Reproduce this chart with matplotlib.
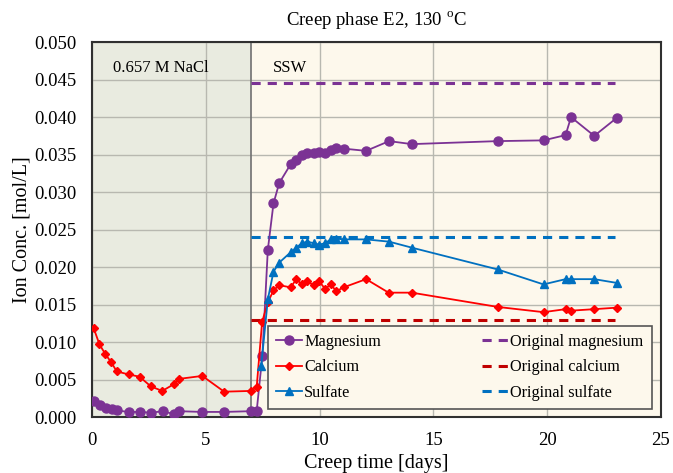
import numpy as np
import matplotlib
matplotlib.use("Agg")
import matplotlib.pyplot as plt

plt.rcParams['font.family'] = ['Liberation Serif', 'DejaVu Serif']
plt.rcParams['mathtext.fontset'] = 'custom'
plt.rcParams['mathtext.rm'] = 'Liberation Serif'

# magnesium
mg_t = [0.09, 0.35, 0.6, 0.85, 1.08, 1.6, 2.1, 2.6, 3.1, 3.6, 3.8, 4.84, 5.8, 6.97, 7.23,
        7.48, 7.72, 7.97, 8.22, 8.72, 8.97, 9.22, 9.46, 9.73, 9.98, 10.24, 10.49, 10.72, 11.05,
        12.04, 13.05, 14.05, 17.82, 19.84, 20.81, 21.05, 22.07, 23.06]
mg_c = [0.0021, 0.0016, 0.0012, 0.0011, 0.0009, 0.0007, 0.0007, 0.0006, 0.0008, 0.0004, 0.0008,
        0.0007, 0.0007, 0.0008, 0.0008,
        0.0082, 0.0223, 0.0285, 0.0312, 0.0337, 0.0343, 0.0349, 0.0352, 0.0352, 0.0354, 0.0352,
        0.0356, 0.0359, 0.0358, 0.0355, 0.0368, 0.0364, 0.0368, 0.0369, 0.0376, 0.0400, 0.0375, 0.0399]

# calcium
ca_t = [0.06, 0.32, 0.58, 0.84, 1.08, 1.6, 2.08, 2.58, 3.08, 3.59, 3.8, 4.84, 5.8, 6.97, 7.23,
        7.47, 7.72, 7.97, 8.22, 8.73, 8.97, 9.22, 9.46, 9.73, 9.98, 10.24, 10.49, 10.73, 11.05,
        12.04, 13.03, 14.05, 17.82, 19.84, 20.81, 21.05, 22.07, 23.06]
ca_c = [0.0119, 0.0097, 0.0084, 0.0073, 0.0061, 0.0057, 0.0054, 0.0041, 0.0035, 0.0044, 0.0051,
        0.0055, 0.0034, 0.0035, 0.0040,
        0.0127, 0.0153, 0.0169, 0.0176, 0.0173, 0.0184, 0.0177, 0.0181, 0.0176, 0.0181, 0.0171,
        0.0177, 0.0168, 0.0173, 0.0184, 0.0166, 0.0166, 0.0147, 0.0140, 0.0144, 0.0142, 0.0144, 0.0146]

# sulfate
so4_t = [7.43, 7.72, 7.97, 8.22, 8.73, 8.97, 9.22, 9.46, 9.73, 9.98, 10.24, 10.49, 10.73, 11.05,
         12.04, 13.05, 14.05, 17.82, 19.84, 20.81, 21.05, 22.07, 23.06]
so4_c = [0.0068, 0.0157, 0.0194, 0.0206, 0.0220, 0.0226, 0.0232, 0.0234, 0.0232, 0.0230, 0.0232,
         0.0237, 0.0238, 0.0237, 0.0237, 0.0234, 0.0226, 0.0197, 0.0177, 0.0184, 0.0184, 0.0184, 0.0179]

# original SSW levels
orig_t = [7.0, 23.0]
orig_mg = 0.0445
orig_ca = 0.0130
orig_so4 = 0.0240

switch_day = 7.0

fig = plt.figure(figsize=(6.73, 4.73), dpi=100)
ax = fig.add_axes([0.137, 0.118, 0.845, 0.793])

ax.axvspan(0, switch_day, color='#e9ebe0', zorder=0)
ax.axvspan(switch_day, 25, color='#fdf8ec', zorder=0)
ax.axvline(switch_day, color='#707070', lw=1.2, zorder=1)

dash = (0, (3, 2.3))
ax.plot(mg_t, mg_c, color='#7b3294', marker='o', ms=6.5, lw=1.3, label='Magnesium', zorder=4)
ax.plot(ca_t, ca_c, color='#ff0000', marker='D', ms=4, lw=1.3, label='Calcium', zorder=4)
ax.plot(so4_t, so4_c, color='#0070c0', marker='^', ms=6, lw=1.3, label='Sulfate', zorder=4)
ax.plot(orig_t, [orig_mg] * 2, color='#7b3294', ls=dash, lw=2.2, label='Original magnesium', zorder=3)
ax.plot(orig_t, [orig_ca] * 2, color='#c00000', ls=dash, lw=2.2, label='Original calcium', zorder=3)
ax.plot(orig_t, [orig_so4] * 2, color='#0070c0', ls=dash, lw=2.2, label='Original sulfate', zorder=3)

ax.set_xlim(0, 25)
ax.set_ylim(0, 0.05)
ax.set_xticks(np.arange(0, 26, 5))
ax.set_yticks(np.arange(0, 0.0501, 0.005))
ax.yaxis.set_major_formatter(matplotlib.ticker.FormatStrFormatter('%.3f'))
ax.grid(True, color='#b8b8b0', lw=1, zorder=1)
ax.set_axisbelow(True)
ax.tick_params(labelsize=13.5, length=0)
ax.tick_params(axis='y', pad=11)
ax.tick_params(axis='x', pad=11)
for s in ax.spines.values():
    s.set_linewidth(1.5)
    s.set_color('#303030')

ax.set_title('Creep phase E2, 130 $^{\\rm o}$C', fontsize=13.5, pad=12)
ax.set_xlabel('Creep time [days]', fontsize=14.5, labelpad=3)
ax.set_ylabel('Ion Conc. [mol/L]', fontsize=14.5, labelpad=2)

ax.text(3.0, 0.0466, '0.657 M NaCl', ha='center', va='center', fontsize=12)
ax.text(7.95, 0.0466, 'SSW', ha='left', va='center', fontsize=12)

leg = ax.legend(ncol=2, loc='lower right', bbox_to_anchor=(0.984, 0.021), fontsize=11.7,
                facecolor='#fdf8ec', edgecolor='#555555', framealpha=1, fancybox=False,
                handlelength=1.6, handletextpad=0.15, columnspacing=6.2, labelspacing=0.6,
                borderpad=0.5, borderaxespad=0)
leg.get_frame().set_linewidth(1.2)
leg.set_zorder(5)

plt.savefig('out.png', dpi=100)
